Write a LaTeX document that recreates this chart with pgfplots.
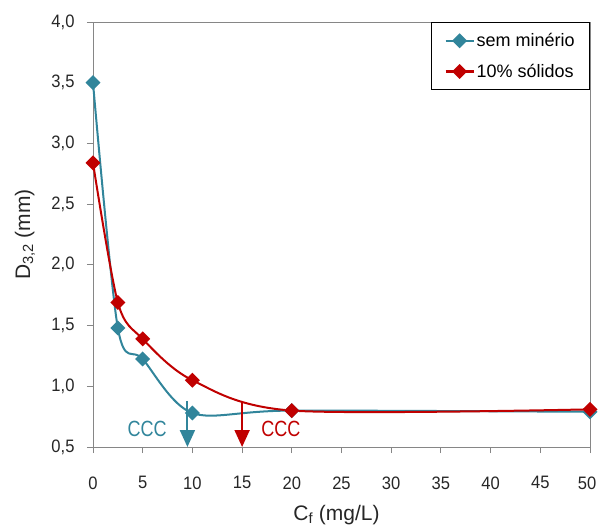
\documentclass[border=0pt]{standalone}
\usepackage{fontspec}
\setmainfont{Liberation Sans}
\newfontfamily\narrowfont{Liberation Sans}[FakeStretch=0.82]
\newfontfamily\tickfont{Liberation Sans}[FakeStretch=0.92]
\usepackage{pgfplots}
\pgfplotsset{compat=1.18}
\usetikzlibrary{arrows.meta}
\definecolor{cblue}{RGB}{49,133,155}
\definecolor{cred}{RGB}{192,0,0}
\definecolor{axgray}{RGB}{134,134,134}
\begin{document}
\begin{tikzpicture}
\begin{axis}[
  scale only axis, width=497bp, height=425bp,
  xmin=0, xmax=50, ymin=0.5, ymax=4.0,
  xtick={0,5,...,45}, ytick={0.5,1.0,...,4.0},
  extra x ticks={50},
  extra x tick style={xticklabel style={xshift=-3bp}},
  tick align=outside, tick pos=left, major tick length=6bp,
  axis line style={axgray, line width=1pt},
  every tick/.style={axgray, line width=1pt},
  /pgf/number format/assume math mode=true,
  ticklabel style={font=\tickfont\fontsize{18bp}{20bp}\selectfont, text=black!85},
  yticklabel style={/pgf/number format/use comma, /pgf/number format/fixed, /pgf/number format/fixed zerofill, /pgf/number format/precision=1, xshift=-9bp},
  xticklabel style={/pgf/number format/fixed, /pgf/number format/precision=0, yshift=-20bp},
  xlabel={C\textsubscript{f} (mg/L)},
  ylabel={D\textsubscript{3,2} (mm)},
  label style={font=\fontsize{21bp}{23bp}\selectfont, text=black!85},
  xlabel style={at={(axis description cs:0.5,-0.16)}, anchor=center, xshift=-5bp},
  ylabel style={at={(axis description cs:-0.137,0.5)}, anchor=center},
  legend style={at={(1,1)}, anchor=north east, draw=black, line width=0.8pt,
    font=\fontsize{18bp}{20bp}\selectfont, inner xsep=13bp, inner ysep=9bp, row sep=12bp,
    cells={anchor=west}},
  legend image code/.code={\draw[mark repeat=2,mark phase=2] plot coordinates {(0bp,0bp)(14bp,0bp)(28bp,0bp)};},
  clip=false,
]
\addplot[cblue, line width=2bp, smooth, mark=square*, mark size=4.3bp, mark options={rotate=45, solid}]
  coordinates {(0,3.50) (2.5,1.48) (5,1.225) (10,0.78) (20,0.80) (50,0.79)};
\addlegendentry{sem minério}
\addplot[cred, line width=2bp, smooth, mark=square*, mark size=4.3bp, mark options={rotate=45, solid}]
  coordinates {(0,2.84) (2.5,1.69) (5,1.39) (10,1.05) (20,0.80) (50,0.81)};
\addlegendentry{10\% sólidos}
\addplot[cblue, line width=2bp, -{Triangle[length=17bp,width=15bp]}, forget plot]
  coordinates {(9.5,0.88) (9.5,0.5)};
\addplot[cred, line width=2bp, -{Triangle[length=17bp,width=15bp]}, forget plot]
  coordinates {(15,0.88) (15,0.5)};
\node[text=cblue, font=\narrowfont\fontsize{22bp}{24bp}\selectfont] at (axis cs:5.44,0.648) {CCC};
\node[text=cred, font=\narrowfont\fontsize{22bp}{24bp}\selectfont] at (axis cs:18.9,0.648) {CCC};
\end{axis}
\pgfresetboundingbox
\path ([shift={(-93bp,-83bp)}]current axis.south west) rectangle ([shift={(8bp,22bp)}]current axis.north east);
\end{tikzpicture}
\end{document}
